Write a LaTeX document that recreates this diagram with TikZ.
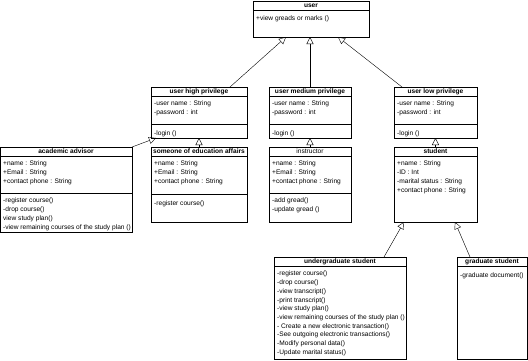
\documentclass[tikz,border=0pt]{standalone}
\usepackage{fontspec}
\setmainfont{Liberation Sans}
\usetikzlibrary{arrows.meta}

\begin{document}
\begin{tikzpicture}[x=1pt, y=-1pt,
  cls/.style={draw, line width=0.5pt, anchor=north west, inner sep=0pt, outer sep=0pt},
  ttl/.style={font=\fontsize{6.6}{8}\selectfont\bfseries, inner sep=0pt},
  txt/.style={anchor=north west, align=left, inner sep=0pt, font=\fontsize{6.6}{8.7}\selectfont, execute at begin node=\strut},
  sep/.style={line width=0.5pt},
  inherit/.style={-{Triangle[open, length=7pt, width=7pt]}, line width=0.4pt}
]
\useasboundingbox (0,0) rectangle (528,360);

% user
\node[cls, minimum width=116pt, minimum height=36pt] (user) at (253,1) {};
\node[ttl] (usertitle) at ([yshift=-4.5pt]user.north) {user};
\draw[sep] ([yshift=-9pt]user.north west) -- ([yshift=-9pt]user.north east);
\node[txt] (userops) at ([xshift=3pt,yshift=-13pt]user.north west) {+view greads or marks ()};

% user high privilege
\node[cls, minimum width=96pt, minimum height=51pt] (high) at (151,87) {};
\node[ttl] (hightitle) at ([yshift=-4.5pt]high.north) {user high privilege};
\draw[sep] ([yshift=-9pt]high.north west) -- ([yshift=-9pt]high.north east);
\node[txt] (highattr) at ([xshift=3pt,yshift=-14pt]high.north west) {-user name : String\\-password : int};
\draw[sep] ([yshift=-37pt]high.north west) -- ([yshift=-37pt]high.north east);
\node[txt] (highops) at ([xshift=3pt,yshift=-42pt]high.north west) {-login ()};

% user medium privilege
\node[cls, minimum width=82pt, minimum height=51pt] (medium) at (269,87) {};
\node[ttl] (mediumtitle) at ([yshift=-4.5pt]medium.north) {user medium privilege};
\draw[sep] ([yshift=-9pt]medium.north west) -- ([yshift=-9pt]medium.north east);
\node[txt] (mediumattr) at ([xshift=3pt,yshift=-14pt]medium.north west) {-user name : String\\-password : int};
\draw[sep] ([yshift=-37pt]medium.north west) -- ([yshift=-37pt]medium.north east);
\node[txt] (mediumops) at ([xshift=3pt,yshift=-42pt]medium.north west) {-login ()};

% user low privilege
\node[cls, minimum width=83pt, minimum height=51pt] (low) at (394,87) {};
\node[ttl] (lowtitle) at ([yshift=-4.5pt]low.north) {user low privilege};
\draw[sep] ([yshift=-9pt]low.north west) -- ([yshift=-9pt]low.north east);
\node[txt] (lowattr) at ([xshift=3pt,yshift=-14pt]low.north west) {-user name : String\\-password : int};
\draw[sep] ([yshift=-37pt]low.north west) -- ([yshift=-37pt]low.north east);
\node[txt] (lowops) at ([xshift=3pt,yshift=-42pt]low.north west) {-login ()};

% academic advisor
\node[cls, minimum width=132pt, minimum height=85pt] (advisor) at (0,147) {};
\node[ttl] (advisortitle) at ([yshift=-4.5pt]advisor.north) {academic advisor};
\draw[sep] ([yshift=-9pt]advisor.north west) -- ([yshift=-9pt]advisor.north east);
\node[txt] (advisorattr) at ([xshift=3pt,yshift=-14pt]advisor.north west) {+name : String\\+Email : String\\+contact phone : String};
\draw[sep] ([yshift=-46pt]advisor.north west) -- ([yshift=-46pt]advisor.north east);
\node[txt] (advisorops) at ([xshift=3pt,yshift=-51pt]advisor.north west) {-register course()\\-drop course()\\view study plan()\\-view remaining courses of the study plan ()};

% someone of education affairs
\node[cls, minimum width=96pt, minimum height=75pt] (affairs) at (151,147) {};
\node[ttl] (affairstitle) at ([yshift=-4.5pt]affairs.north) {someone of education affairs};
\draw[sep] ([yshift=-9pt]affairs.north west) -- ([yshift=-9pt]affairs.north east);
\node[txt] (affairsattr) at ([xshift=3pt,yshift=-14pt]affairs.north west) {+name : String\\+Email : String\\+contact phone : String};
\draw[sep] ([yshift=-47pt]affairs.north west) -- ([yshift=-47pt]affairs.north east);
\node[txt] (affairsops) at ([xshift=3pt,yshift=-52pt]affairs.north west) {-register course()};

% instructor
\node[cls, minimum width=82pt, minimum height=75pt] (instructor) at (269,147) {};
\node[ttl, font=\fontsize{6.6}{8}\selectfont] (instructortitle) at ([yshift=-4.5pt]instructor.north) {instructor};
\draw[sep] ([yshift=-9pt]instructor.north west) -- ([yshift=-9pt]instructor.north east);
\node[txt] (instructorattr) at ([xshift=3pt,yshift=-14pt]instructor.north west) {+name : String\\+Email : String\\+contact phone : String};
\draw[sep] ([yshift=-46pt]instructor.north west) -- ([yshift=-46pt]instructor.north east);
\node[txt] (instructorops) at ([xshift=3pt,yshift=-51pt]instructor.north west) {-add gread()\\-update gread ()};

% student
\node[cls, minimum width=83pt, minimum height=75pt] (student) at (394,147) {};
\node[ttl] (studenttitle) at ([yshift=-4.5pt]student.north) {student};
\draw[sep] ([yshift=-9pt]student.north west) -- ([yshift=-9pt]student.north east);
\node[txt] (studentattr) at ([xshift=3pt,yshift=-14pt]student.north west) {+name : String\\-ID : Int\\-marital status : String\\+contact phone : String};

% undergraduate student
\node[cls, minimum width=132pt, minimum height=102pt] (under) at (274,257) {};
\node[ttl] (undertitle) at ([yshift=-4.5pt]under.north) {undergraduate student};
\draw[sep] ([yshift=-9pt]under.north west) -- ([yshift=-9pt]under.north east);
\node[txt] (underops) at ([xshift=3pt,yshift=-14pt]under.north west) {-register course()\\-drop course()\\-view transcript()\\-print transcript()\\-view study plan()\\-view remaining courses of the study plan ()\\- Create a new electronic transaction()\\-See outgoing electronic transactions()\\-Modify personal data()\\-Update marital status()};

% graduate student
\node[cls, minimum width=70pt, minimum height=102pt] (grad) at (457,257) {};
\node[ttl] (gradtitle) at ([yshift=-4.5pt]grad.north) {graduate student};
\draw[sep] ([yshift=-9pt]grad.north west) -- ([yshift=-9pt]grad.north east);
\node[txt] (gradops) at ([xshift=3pt,yshift=-14pt]grad.north west) {-graduate document()};

% Inheritance
\draw[inherit] ([xshift=79pt]high.north west) -- ([xshift=33pt]user.south west);
\draw[inherit] (medium.north) -- (medium.north |- user.south);
\draw[inherit] ([xshift=8pt]low.north west) -- ([xshift=85pt]user.south west);
\draw[inherit] (advisor.north east) -- ([xshift=5pt]high.south west);
\draw[inherit] (affairs.north) -- (affairs.north |- high.south);
\draw[inherit] (instructor.north) -- (instructor.north |- medium.south);
\draw[inherit] (student.north) -- (student.north |- low.south);
\draw[inherit] ([xshift=110pt]under.north west) -- ([xshift=10pt]student.south west);
\draw[inherit] ([xshift=13pt]grad.north west) -- ([xshift=61pt]student.south west);

\end{tikzpicture}
\end{document}
